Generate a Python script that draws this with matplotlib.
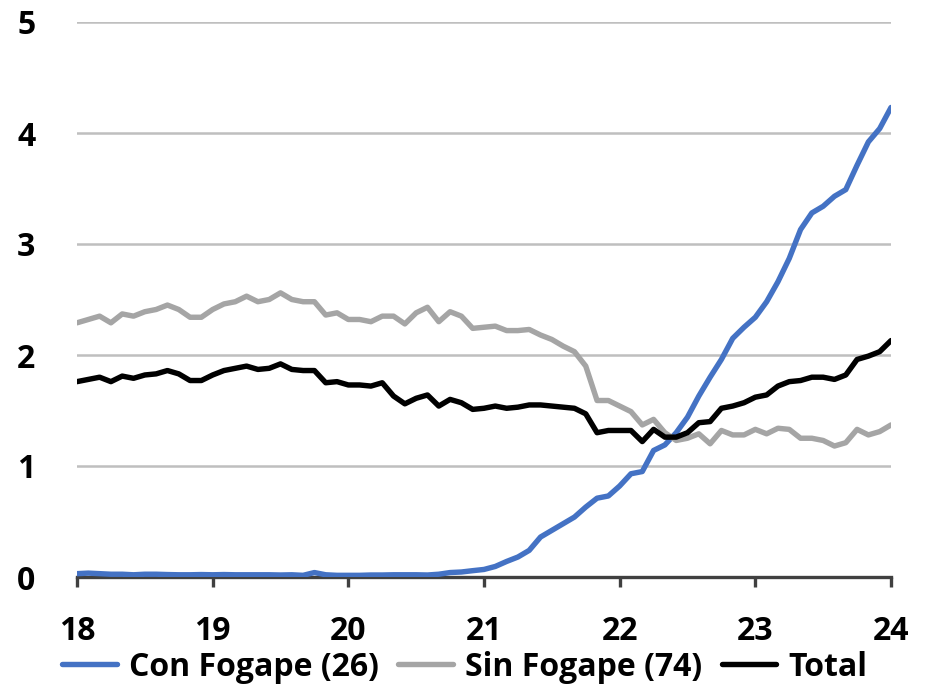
import numpy as np
import matplotlib.pyplot as plt

# monthly observations, Jan-18 .. Jan-24 (x axis in years, "18" = 2018)
years = 18 + np.arange(73) / 12.0

con_fogape = [0.03, 0.035, 0.03, 0.025, 0.025, 0.02, 0.025, 0.025, 0.022, 0.02,
              0.02, 0.022, 0.02, 0.022, 0.02, 0.02, 0.02, 0.02, 0.018, 0.02,
              0.015, 0.04, 0.02, 0.015, 0.015, 0.015, 0.018, 0.018, 0.02, 0.02,
              0.02, 0.018,
              0.025, 0.04, 0.045, 0.057, 0.068, 0.095, 0.14, 0.18, 0.24, 0.36,
              0.42, 0.48, 0.54, 0.63, 0.71, 0.73, 0.82, 0.93, 0.95, 1.14,
              1.19, 1.30, 1.44, 1.63, 1.80, 1.96, 2.15, 2.25, 2.34, 2.48,
              2.66, 2.87, 3.13, 3.28, 3.34, 3.43, 3.49, 3.71, 3.92, 4.04,
              4.23]

sin_fogape = [2.29, 2.32, 2.35, 2.29, 2.37, 2.35, 2.39, 2.41, 2.45, 2.41,
              2.34, 2.34, 2.41, 2.46, 2.48, 2.53, 2.48, 2.50, 2.56, 2.50,
              2.48, 2.48, 2.36, 2.38, 2.32, 2.32,
              2.30, 2.35, 2.35, 2.28, 2.38, 2.43, 2.30, 2.39, 2.35, 2.24,
              2.25, 2.26, 2.22, 2.22, 2.23, 2.18, 2.14, 2.08, 2.03, 1.90,
              1.59, 1.59, 1.54, 1.49, 1.37, 1.42, 1.30, 1.23, 1.25, 1.29,
              1.20, 1.32, 1.28, 1.28, 1.33, 1.29, 1.34, 1.33, 1.25, 1.25,
              1.23, 1.18, 1.21, 1.33, 1.28, 1.31, 1.37]

total = [1.76, 1.78, 1.80, 1.76, 1.81, 1.79, 1.82, 1.83, 1.86, 1.83,
         1.77, 1.77, 1.82, 1.86, 1.88, 1.90, 1.87, 1.88, 1.92, 1.87,
         1.86, 1.86, 1.75, 1.76, 1.73, 1.73,
         1.72, 1.75, 1.63, 1.56, 1.61, 1.64, 1.54, 1.60, 1.57, 1.51,
         1.52, 1.54, 1.52, 1.53, 1.55, 1.55, 1.54, 1.53, 1.52, 1.47,
         1.30, 1.32, 1.32, 1.32, 1.22, 1.33, 1.26, 1.26, 1.30, 1.39,
         1.40, 1.52, 1.54, 1.57, 1.62, 1.64, 1.72, 1.76, 1.77, 1.80,
         1.80, 1.78, 1.82, 1.96, 1.99, 2.03, 2.13]

labels = ["Con Fogape (26)", "Sin Fogape (74)", "Total"]
colors = ["#4472C4", "#A5A5A5", "#000000"]

plt.rcParams['font.family'] = ['Open Sans', 'DejaVu Sans']
plt.rcParams['font.weight'] = 'bold'

fig = plt.figure(figsize=(9.3, 6.9), dpi=100)
ax = fig.add_axes([77 / 930, 113 / 690, 814 / 930, 555 / 690])

for ys, lab, c in zip([con_fogape, sin_fogape, total], labels, colors):
    ax.plot(years, ys, color=c, lw=3.9, label=lab, solid_joinstyle='round',
            solid_capstyle='round', zorder=3)

ax.set_xlim(18, 24)
ax.set_ylim(0, 5)
ax.set_xticks(range(18, 25))
ax.set_yticks(range(0, 6))

for y in range(1, 6):
    ax.axhline(y, color='#BFBFBF', lw=1.8, zorder=1)

for side in ['top', 'right', 'left']:
    ax.spines[side].set_visible(False)
ax.spines['bottom'].set_color('#404040')
ax.spines['bottom'].set_linewidth(2.4)
ax.spines['bottom'].set_zorder(2)

ax.tick_params(axis='x', direction='out', length=7, width=2.4, color='#404040',
               pad=20, labelsize=23)
ax.tick_params(axis='y', length=0, pad=30, labelsize=23)
for t in ax.get_xticklabels() + ax.get_yticklabels():
    t.set_fontweight('bold')

leg = fig.legend(loc='center', bbox_to_anchor=(0.5, 23 / 690), ncol=3,
                 frameon=False, fontsize=23, handlelength=1.7,
                 handletextpad=0.4, columnspacing=0.6, borderaxespad=0)
for t in leg.get_texts():
    t.set_fontweight('bold')

fig.savefig('out.png', dpi=100)
